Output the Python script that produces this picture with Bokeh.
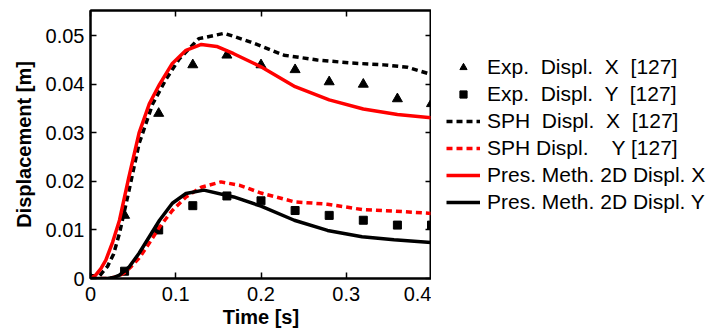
from bokeh.plotting import figure
from bokeh.layouts import row
from bokeh.models import Range1d, FixedTicker, LinearAxis, Legend, LegendItem
from bokeh.embed import file_html
from bokeh.resources import INLINE

# Experimental data [127]
t_exp = [0.0, 0.04, 0.08, 0.12, 0.16, 0.20, 0.24, 0.28, 0.32, 0.36, 0.40]
exp_x = [0.0, 0.013, 0.034, 0.044, 0.046, 0.044, 0.043, 0.0405, 0.040, 0.037, 0.036]
exp_y = [0.0, 0.0015, 0.010, 0.015, 0.017, 0.016, 0.014, 0.013, 0.012, 0.011, 0.011]

# SPH [127]
t_sph_x = [0.0, 0.01, 0.02, 0.027, 0.034, 0.045, 0.057, 0.073, 0.0885, 0.104, 0.127, 0.157,
           0.188, 0.227, 0.266, 0.305, 0.344, 0.372, 0.4]
sph_x = [0.0, 0.0004, 0.0025, 0.005, 0.0093, 0.018, 0.0278, 0.036, 0.041, 0.0452, 0.0494, 0.0505,
         0.0487, 0.046, 0.045, 0.0444, 0.044, 0.0435, 0.042]
t_sph_y = [0.0, 0.02, 0.03, 0.04, 0.048, 0.057, 0.069, 0.081, 0.096, 0.112, 0.13, 0.153,
           0.175, 0.2, 0.239, 0.278, 0.3185, 0.356, 0.4]
sph_y = [0.0, 0.0, 0.0003, 0.0012, 0.0025, 0.0042, 0.0073, 0.0106, 0.014, 0.0168, 0.0188, 0.0199,
         0.0192, 0.0176, 0.0158, 0.0153, 0.0142, 0.0139, 0.0134]

# Present method 2D
t_pm_x = [0.0, 0.006, 0.012, 0.018, 0.026, 0.034, 0.045, 0.057, 0.069, 0.081, 0.096, 0.112,
          0.13, 0.148, 0.168, 0.2, 0.24, 0.28, 0.32, 0.36, 0.4]
pm_x = [0.0, 0.0007, 0.002, 0.0038, 0.0075, 0.012, 0.0209, 0.030, 0.036, 0.040, 0.0443, 0.047,
        0.0482, 0.0478, 0.0463, 0.0436, 0.0395, 0.0368, 0.0349, 0.0338, 0.0331]
t_pm_y = [0.0, 0.02, 0.027, 0.034, 0.0455, 0.057, 0.069, 0.081, 0.096, 0.112, 0.133, 0.168,
          0.2, 0.239, 0.278, 0.3185, 0.356, 0.4]
pm_y = [0.0, 0.0, 0.0002, 0.0007, 0.0024, 0.0052, 0.0086, 0.012, 0.0155, 0.0175, 0.0182, 0.0168,
        0.0149, 0.012, 0.0099, 0.0086, 0.008, 0.0074]

x_ticks = [0.0, 0.1, 0.2, 0.3, 0.4]
x_tick_labels = ["0", "0.1", "0.2", "0.3", "0.4"]
y_ticks = [0.0, 0.01, 0.02, 0.03, 0.04, 0.05]
y_tick_labels = ["0", "0.01", "0.02", "0.03", "0.04", "0.05"]

legend_labels = ["Exp.  Displ.  X  [127]", "Exp.  Displ.  Y  [127]", "SPH  Displ.  X  [127]",
                 "SPH Displ.    Y [127]", "Pres. Meth. 2D Displ. X", "Pres. Meth. 2D Displ. Y"]

FONT = "Liberation Sans"

p = figure(width=431, height=336, output_backend="svg", toolbar_location=None,
           x_range=Range1d(0, 0.4), y_range=Range1d(0, 0.0552),
           min_border_left=90, min_border_right=0, min_border_top=10, min_border_bottom=58)
p.grid.visible = False
p.outline_line_color = "black"
p.outline_line_width = 2
p.background_fill_color = "white"
p.border_fill_color = "white"

for ax, ticks, labels in ((p.xaxis[0], x_ticks, x_tick_labels), (p.yaxis[0], y_ticks, y_tick_labels)):
    ax.ticker = FixedTicker(ticks=ticks)
    ax.major_label_overrides = {t: l for t, l in zip(ticks, labels)}
    ax.major_tick_in = 6
    ax.major_tick_out = 0
    ax.minor_tick_line_color = None
    ax.axis_line_width = 2
    ax.major_tick_line_width = 1.5
    ax.major_label_text_font = FONT
    ax.major_label_text_font_size = "20px"
    ax.major_label_text_color = "black"
    ax.axis_label_text_font = FONT
    ax.axis_label_text_font_size = "20px"
    ax.axis_label_text_font_style = "bold"
    ax.axis_label_text_color = "black"

p.xaxis[0].axis_label = "Time [s]"
p.yaxis[0].axis_label = "Displacement [m]"
p.xaxis[0].major_label_standoff = 8
p.xaxis[0].axis_label_standoff = 2
p.yaxis[0].major_label_standoff = 6
p.yaxis[0].axis_label_standoff = 8

for loc, ticks in (("above", x_ticks), ("right", y_ticks)):
    ax = LinearAxis(ticker=FixedTicker(ticks=ticks), major_tick_in=6, major_tick_out=0,
                    minor_tick_line_color=None, major_label_text_font_size="0px",
                    major_label_standoff=0, axis_line_width=2, major_tick_line_width=1.5)
    ax.major_label_overrides = {t: "" for t in ticks}
    p.add_layout(ax, loc)

styles = [
    dict(kind="scatter", marker="triangle", size=10, color="black"),
    dict(kind="scatter", marker="square", size=8, color="black"),
    dict(kind="line", line_color="black", line_width=3.5, line_dash="6 4"),
    dict(kind="line", line_color="red", line_width=3.5, line_dash="6 4"),
    dict(kind="line", line_color="red", line_width=3.5),
    dict(kind="line", line_color="black", line_width=3.5),
]
series = [(t_exp, exp_x), (t_exp, exp_y), (t_sph_x, sph_x), (t_sph_y, sph_y),
          (t_pm_x, pm_x), (t_pm_y, pm_y)]

# legend panel: separate figure (same series drawn out of its visible range) so the
# legend is not clipped by the main plot frame
q = figure(width=290, height=336, output_backend="svg", toolbar_location=None,
           x_range=Range1d(0, 0.4), y_range=Range1d(1, 2),
           min_border_left=0, min_border_right=0, min_border_top=0, min_border_bottom=0)
q.axis.visible = False
q.grid.visible = False
q.outline_line_color = None
q.border_fill_color = "white"
q.background_fill_color = "white"

items = []
for (xs, ys), st in zip(series, styles):
    st = dict(st)
    kind = st.pop("kind")
    if kind == "scatter":
        p.scatter(xs, ys, **st)
        r = q.scatter(xs, ys, **st)
    else:
        p.line(xs, ys, **st)
        r = q.line(xs, ys, **st)
    items.append(r)

legend = Legend(items=[LegendItem(label=l, renderers=[r]) for l, r in zip(legend_labels, items)],
                location=(15, 63), padding=0, spacing=0, margin=0,
                glyph_width=34, glyph_height=18, label_height=27, label_standoff=7,
                border_line_alpha=0, background_fill_alpha=0,
                label_text_font=FONT, label_text_font_size="21px", label_text_color="black")
q.add_layout(legend, "center")

layout = row(p, q)
open("out.html", "w").write(file_html(layout, INLINE))
